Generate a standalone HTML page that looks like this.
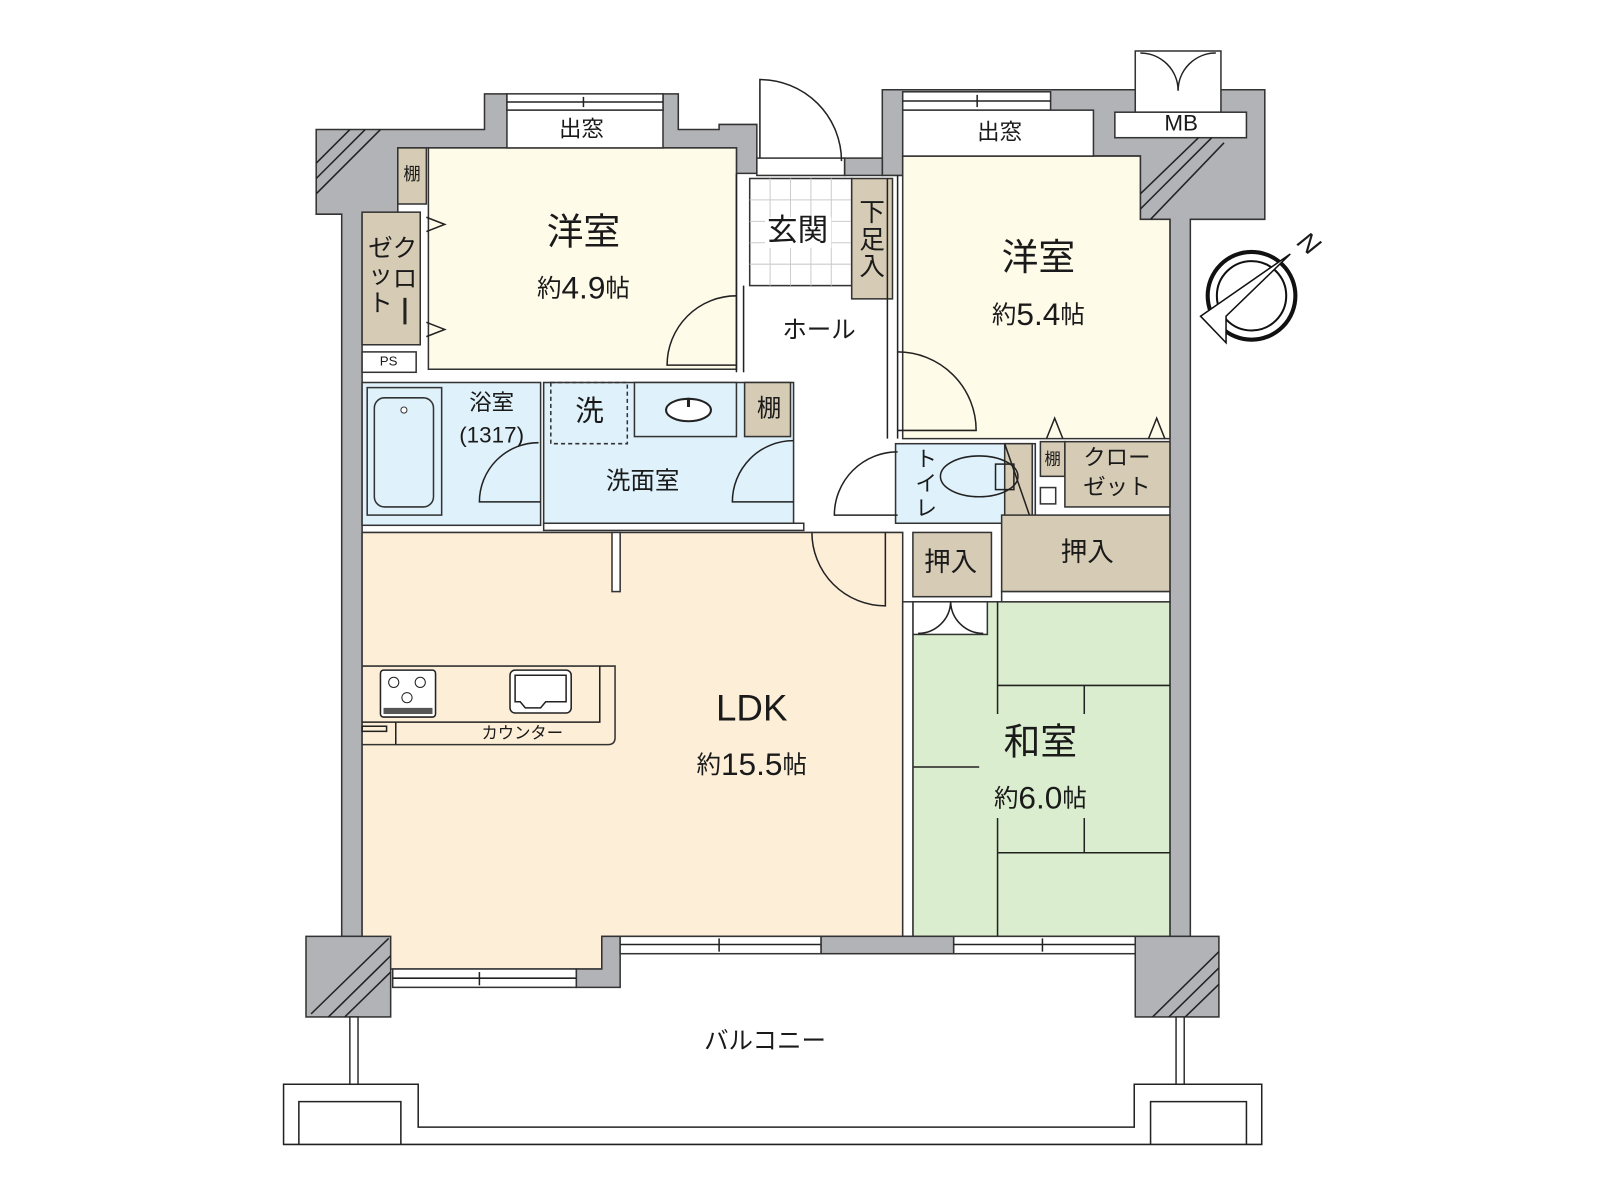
<!DOCTYPE html>
<html><head><meta charset="utf-8"><style>
html,body{margin:0;padding:0;background:#fff}
svg{display:block}
text{font-family:"Liberation Sans","Noto Sans CJK JP",sans-serif;fill:#1a1a1a;text-anchor:middle;dominant-baseline:middle}
.w{fill:#b2b3b7;stroke:#333;stroke-width:1.5}
.l{stroke:#222;stroke-width:1.5;fill:none}
.tan{fill:#d6cbb4;stroke:#333;stroke-width:1.5}
.blue{fill:#dff1fb;stroke:#333;stroke-width:1.5}
.wh{fill:#fff;stroke:#333;stroke-width:1.5}
</style></head><body>
<svg width="1600" height="1200" viewBox="0 0 1600 1200" xmlns="http://www.w3.org/2000/svg">
<g transform="scale(1.02)">
<!-- walls -->
<polygon class="w" points="310,127 475,127 475,92 497,92 497,108 650,108 650,92 665,92 665,127 705,127 705,122 742,122 742,170 722,170 722,145 390,145 390,210 355,210 355,918 335,918 335,210 310,210"/>
<polygon class="w" points="865,88 1240,88 1240,215 1167,215 1167,918 1147,918 1147,215 1118,215 1118,153 885,153 885,172 865,172"/>
<rect class="w" x="828" y="155" width="37" height="17"/>
<!-- rooms -->
<rect x="420" y="145" width="302" height="217" fill="#fefbe9" stroke="#333" stroke-width="1.5"/>
<polygon points="885,153 1118,153 1118,215 1147,215 1147,430 885,430" fill="#fefbe9" stroke="#333" stroke-width="1.5"/>
<polygon points="355,522 885,522 885,918 590,918 590,950 355,950" fill="#fdeed8" stroke="#333" stroke-width="1.5"/>
<rect x="895" y="590" width="252" height="328" fill="#dbedcf" stroke="#333" stroke-width="1.5"/>
<!-- top windows -->
<rect class="wh" x="497" y="92" width="153" height="16"/>
<line class="l" x1="497" y1="100" x2="650" y2="100"/><line class="l" x1="572" y1="95" x2="572" y2="105"/>
<rect class="wh" x="497" y="108" width="153" height="37"/>
<text x="570" y="128" font-size="22">出窓</text>
<rect class="wh" x="885" y="90" width="145" height="18"/>
<line class="l" x1="885" y1="99" x2="1030" y2="99"/><line class="l" x1="958" y1="93" x2="958" y2="105"/>
<rect class="wh" x="885" y="108" width="187" height="45"/>
<text x="980" y="131" font-size="22">出窓</text>
<rect class="wh" x="1113" y="50" width="84" height="60"/>
<path class="l" d="M1118,52 A37,37 0 0 1 1155,89 M1192,52 A37,37 0 0 0 1155,89"/>
<rect class="wh" x="1093" y="110" width="129" height="25"/>
<text x="1158" y="122" font-size="22">MB</text>
<!-- hatches -->
<line class="l" x1="1118" y1="190" x2="1175" y2="135"/><line class="l" x1="1118" y1="205" x2="1188" y2="135"/><line class="l" x1="1128" y1="215" x2="1200" y2="140"/>
<line class="l" x1="310" y1="160" x2="343" y2="127"/><line class="l" x1="310" y1="175" x2="358" y2="127"/><line class="l" x1="310" y1="190" x2="373" y2="127"/>
<!-- entrance -->
<rect class="wh" x="742" y="155" width="86" height="17"/>
<path class="l" d="M745,155 L745,78 A80,80 0 0 1 825,158"/>
<rect x="735" y="175" width="100" height="105" fill="#fff" stroke="#333" stroke-width="1.5"/>
<g stroke="#ccc" stroke-width="1">
<line x1="755" y1="175" x2="755" y2="280"/><line x1="775" y1="175" x2="775" y2="280"/><line x1="795" y1="175" x2="795" y2="280"/><line x1="815" y1="175" x2="815" y2="280"/>
<line x1="735" y1="196" x2="835" y2="196"/><line x1="735" y1="217" x2="835" y2="217"/><line x1="735" y1="238" x2="835" y2="238"/><line x1="735" y1="259" x2="835" y2="259"/>
</g>
<rect x="750" y="213" width="65" height="30" fill="#fff"/>
<text x="782" y="228" font-size="30">玄関</text>
<rect class="tan" x="835" y="175" width="40" height="118"/>
<text x="855" y="210" font-size="25">下</text><text x="855" y="237" font-size="25">足</text><text x="855" y="263" font-size="25">入</text>
<!-- hall walls -->
<line class="l" x1="722" y1="170" x2="722" y2="365"/><line class="l" x1="729" y1="280" x2="729" y2="365"/>
<line class="l" x1="870" y1="175" x2="870" y2="430"/><line class="l" x1="880" y1="172" x2="880" y2="430"/>
<text x="803" y="325" font-size="24">ホール</text>
<!-- left closets -->
<rect class="tan" x="390" y="145" width="28" height="55"/>
<text x="404" y="172" font-size="17">棚</text>
<rect class="tan" x="355" y="208" width="57" height="130"/>
<text x="397" y="245" font-size="24">ク</text><text x="397" y="275" font-size="24">ロ</text><line x1="397" y1="292" x2="397" y2="318" stroke="#222" stroke-width="3"/>
<text x="373" y="245" font-size="24">ゼ</text><text x="373" y="271" font-size="24">ッ</text><text x="373" y="299" font-size="24">ト</text>
<path class="l" d="M418,213 L436,220 L418,227 M418,316 L436,323 L418,330" fill="#fff"/>
<rect class="wh" x="355" y="345" width="53" height="20"/>
<text x="381" y="355" font-size="13">PS</text>
<text x="572" y="230" font-size="36">洋室</text>
<text x="572" y="285"><tspan font-size="24">約</tspan><tspan font-size="31">4.9</tspan><tspan font-size="24">帖</tspan></text>
<path class="l" d="M722,290 A68,68 0 0 0 654,358 L722,358"/>
<!-- bath -->
<rect class="blue" x="355" y="375" width="175" height="140"/>
<rect class="blue" x="360" y="380" width="73" height="125"/>
<rect x="367" y="390" width="58" height="107" rx="10" fill="#dff1fb" stroke="#333" stroke-width="1.5"/>
<circle cx="396" cy="402" r="3" fill="#fff" stroke="#333"/>
<text x="482" y="396" font-size="22">浴室</text>
<text x="482" y="428" font-size="22">(1317)</text>
<path class="l" d="M528,434 A58,58 0 0 0 470,492 L530,492"/>
<rect class="blue" x="533" y="375" width="245" height="140"/>
<rect x="540" y="375" width="75" height="60" fill="none" stroke="#333" stroke-width="1.5" stroke-dasharray="4,3"/>
<text x="578" y="405" font-size="28">洗</text>
<rect class="blue" x="622" y="375" width="100" height="53"/>
<ellipse cx="675" cy="402" rx="22" ry="11" fill="#fff" stroke="#222" stroke-width="2"/>
<line x1="675" y1="390" x2="675" y2="399" stroke="#222" stroke-width="3"/>
<rect class="tan" x="730" y="375" width="45" height="53"/>
<text x="754" y="402" font-size="24">棚</text>
<text x="630" y="473" font-size="24">洗面室</text>
<path class="l" d="M778,432 A60,60 0 0 0 718,492 L778,492"/>
<rect class="wh" x="533" y="513" width="255" height="7"/>
<!-- 5.4 -->
<text x="1018" y="255" font-size="36">洋室</text>
<text x="1018" y="311"><tspan font-size="24">約</tspan><tspan font-size="31">5.4</tspan><tspan font-size="24">帖</tspan></text>
<path class="l" d="M880,345 A77,77 0 0 1 957,422 L880,422"/>
<path class="l" d="M1026,430 L1034,410 L1042,430 M1126,430 L1134,410 L1142,430" fill="#fff"/>
<!-- toilet -->
<rect class="blue" x="878" y="435" width="137" height="78"/>
<rect class="tan" x="985" y="435" width="27" height="78"/>
<line class="l" x1="985" y1="435" x2="1012" y2="513"/>
<ellipse cx="960" cy="467" rx="38" ry="20" fill="none" stroke="#222" stroke-width="1.5"/>
<rect x="976" y="455" width="18" height="25" fill="none" stroke="#222" stroke-width="1.5"/>
<text x="908" y="452" font-size="21">ト</text><text x="908" y="476" font-size="21">イ</text><text x="908" y="500" font-size="21">レ</text>
<path class="l" d="M880,443 A62,62 0 0 0 818,505 L880,505"/>
<rect class="tan" x="1020" y="433" width="24" height="34"/>
<text x="1032" y="451" font-size="16">棚</text>
<rect class="wh" x="1020" y="478" width="15" height="16"/>
<rect class="tan" x="1044" y="433" width="103" height="64"/>
<text x="1095" y="450" font-size="22">クロー</text><text x="1095" y="479" font-size="22">ゼット</text>
<rect class="tan" x="982" y="505" width="165" height="75"/>
<text x="1066" y="543" font-size="26">押入</text>
<rect class="tan" x="895" y="522" width="77" height="63"/>
<text x="932" y="553" font-size="26">押入</text>
<rect class="wh" x="982" y="580" width="165" height="10"/>
<!-- washitsu -->
<rect class="wh" x="895" y="590" width="73" height="32"/>
<path class="l" d="M900,621 A32,32 0 0 0 932,590 A32,32 0 0 0 964,621"/>
<g class="l">
<line x1="978" y1="590" x2="978" y2="700"/><line x1="978" y1="802" x2="978" y2="918"/>
<line x1="978" y1="672" x2="1147" y2="672"/><line x1="978" y1="836" x2="1147" y2="836"/>
<line x1="1063" y1="672" x2="1063" y2="700"/><line x1="1063" y1="802" x2="1063" y2="836"/>
<line x1="895" y1="752" x2="960" y2="752"/>
</g>
<text x="1020" y="730" font-size="36">和室</text>
<text x="1020" y="785"><tspan font-size="24">約</tspan><tspan font-size="31">6.0</tspan><tspan font-size="24">帖</tspan></text>
<rect class="wh" x="885" y="590" width="10" height="328"/>
<!-- LDK -->
<rect class="wh" x="600" y="522" width="8" height="58"/>
<path class="l" d="M796,522 A72,72 0 0 0 868,594 L868,522"/>
<path d="M355,653 L603,653 L603,723 Q603,730 596,730 L355,730" fill="none" stroke="#333" stroke-width="1.5"/>
<path class="l" d="M355,708 L588,708 L588,653"/>
<rect class="l" x="355" y="712" width="24" height="5"/><line class="l" x1="388" y1="708" x2="388" y2="730"/>
<rect x="373" y="657" width="54" height="46" rx="3" fill="#fff" stroke="#222" stroke-width="1.5"/>
<circle cx="386" cy="669" r="5" fill="none" stroke="#222"/><circle cx="412" cy="669" r="5" fill="none" stroke="#222"/><circle cx="399" cy="684" r="5" fill="none" stroke="#222"/>
<rect x="376" y="694" width="48" height="6" fill="#555"/>
<rect x="500" y="657" width="60" height="42" rx="5" fill="#fff" stroke="#222" stroke-width="1.5"/>
<path class="l" d="M505,662 L555,662 L555,688 L535,688 L530,694 L515,694 L510,688 L505,688 Z"/>
<text x="512" y="720" font-size="16">カウンター</text>
<text x="737" y="697" font-size="36">LDK</text>
<text x="737" y="752"><tspan font-size="24">約</tspan><tspan font-size="31">15.5</tspan><tspan font-size="24">帖</tspan></text>
<!-- bottom walls/windows -->
<polygon class="w" points="590,918 608,918 608,968 565,968 565,950 590,950"/>
<rect class="wh" x="385" y="950" width="180" height="18"/><line class="l" x1="385" y1="959" x2="565" y2="959"/><line class="l" x1="470" y1="953" x2="470" y2="966"/>
<rect class="wh" x="608" y="918" width="197" height="17"/><line class="l" x1="608" y1="926" x2="805" y2="926"/><line class="l" x1="705" y1="920" x2="705" y2="933"/>
<rect class="w" x="805" y="918" width="130" height="17"/>
<rect class="wh" x="935" y="918" width="178" height="17"/><line class="l" x1="935" y1="926" x2="1113" y2="926"/><line class="l" x1="1022" y1="920" x2="1022" y2="933"/>
<rect class="w" x="300" y="918" width="83" height="79"/>
<line class="l" x1="305" y1="994" x2="381" y2="920"/><line class="l" x1="322" y1="997" x2="383" y2="937"/><line class="l" x1="338" y1="997" x2="383" y2="953"/>
<rect class="w" x="1113" y="918" width="82" height="79"/>
<line class="l" x1="1130" y1="997" x2="1195" y2="933"/><line class="l" x1="1146" y1="997" x2="1195" y2="949"/><line class="l" x1="1162" y1="997" x2="1195" y2="965"/>
<!-- balcony -->
<rect class="wh" x="343" y="997" width="8" height="66"/>
<rect class="wh" x="1153" y="997" width="8" height="66"/>
<path class="l" d="M278,1063 L410,1063 L410,1105 L1112,1105 L1112,1063 L1237,1063 L1237,1122 L278,1122 Z"/>
<path class="l" d="M293,1122 L293,1080 L393,1080 L393,1122 M1128,1122 L1128,1080 L1222,1080 L1222,1122"/>
<text x="750" y="1022" font-size="24">バルコニー</text>
<!-- compass -->
<circle cx="1227" cy="290" r="43" fill="none" stroke="#111" stroke-width="4"/>
<circle cx="1227" cy="290" r="34" fill="none" stroke="#111" stroke-width="2"/>
<polygon points="1265,249 1177,310 1202,310" fill="#111"/>
<polygon points="1265,249 1202,310 1202,336 1177,310" fill="#fff" stroke="#111" stroke-width="1.5"/>
<text x="1282" y="240" font-size="26" font-style="italic" transform="rotate(40 1282 240)">N</text>
</g>
</svg>
</body></html>
